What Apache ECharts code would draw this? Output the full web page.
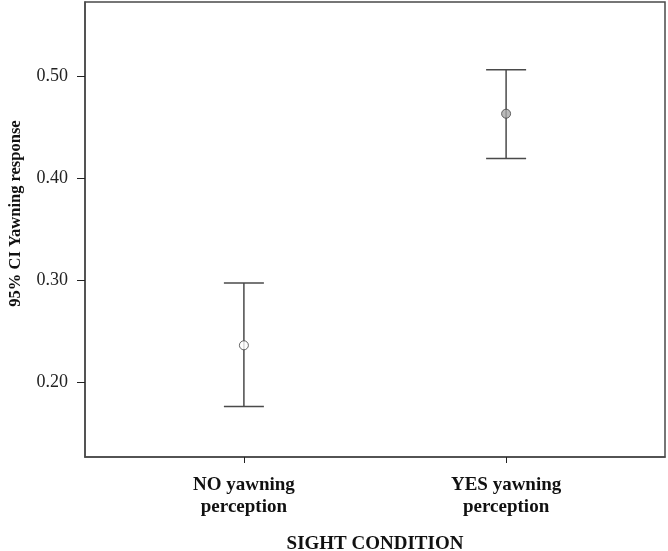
<!DOCTYPE html>
<html>
<head>
<meta charset="utf-8">
<script src="https://cdn.jsdelivr.net/npm/echarts@6/dist/echarts.min.js"></script>
<style>
  html, body { margin: 0; padding: 0; background: #fff; }
  #main { width: 668px; height: 551px; }
</style>
</head>
<body>
<div id="main"></div>
<script>
const categories = ["NO yawning\nperception", "YES yawning\nperception"]
const xPos = [1, 2]
const means = [0.236, 0.463]
const lower = [0.176, 0.419]
const upper = [0.297, 0.506]
const markerFill = ["#ffffff", "#a8a8a8"]
const yTicks = [0.2, 0.3, 0.4, 0.5]

const font = "Liberation Serif"
const ink = "#4a4a4a"

const chart = echarts.init(document.getElementById("main"))

// one bar per group: [x, lower, upper]
const barData = xPos.map((x, i) => [x, lower[i], upper[i]])
const pointData = xPos.map((x, i) => ({
  value: [x, means[i]],
  itemStyle: { color: markerFill[i] }
}))

chart.setOption({
  animation: false,
  grid: {
    left: 85, right: 3, top: 2, bottom: 94,
    outerBoundsMode: "none",
    containLabel: false,
    show: true, borderColor: ink, borderWidth: 1.5
  },
  xAxis: {
    type: "value",
    min: 0.394, max: 2.606,
    name: "SIGHT CONDITION",
    nameLocation: "middle",
    nameGap: 78,
    nameTextStyle: { fontFamily: font, fontWeight: "bold", fontSize: 19, color: "#111" },
    splitLine: { show: false },
    axisLine: { show: true, lineStyle: { color: ink, width: 1.5 } },
    axisTick: { show: true, customValues: xPos, length: 6, lineStyle: { color: "#222" } },
    axisLabel: {
      customValues: xPos,
      margin: 17,
      fontFamily: font, fontWeight: "bold", fontSize: 19, color: "#111", lineHeight: 22,
      formatter: v => categories[xPos.indexOf(v)] || ""
    }
  },
  yAxis: {
    type: "value",
    min: 0.1265, max: 0.5725,
    name: "95% CI Yawning response",
    nameLocation: "middle",
    nameGap: 61,
    nameTextStyle: {
      fontFamily: font, fontWeight: "bold", fontSize: 16.5, color: "#111",
      padding: [0, 0, 0, 32]
    },
    splitLine: { show: false },
    axisLine: { show: true, lineStyle: { color: ink, width: 1.5 } },
    axisTick: { show: true, customValues: yTicks, length: 8, lineStyle: { color: "#222" } },
    axisLabel: {
      customValues: yTicks,
      margin: 17,
      fontFamily: font, fontSize: 18, color: "#222",
      formatter: v => v.toFixed(2)
    }
  },
  series: [
    {
      type: "custom",
      data: barData,
      renderItem: (params, api) => {
        const x = api.value(0)
        const lo = api.coord([x, api.value(1)])
        const hi = api.coord([x, api.value(2)])
        const half = 20
        const style = { stroke: ink, lineWidth: 1.5 }
        return {
          type: "group",
          children: [
            { type: "line", shape: { x1: lo[0], y1: lo[1], x2: hi[0], y2: hi[1] }, style },
            { type: "line", shape: { x1: hi[0] - half, y1: hi[1], x2: hi[0] + half, y2: hi[1] }, style },
            { type: "line", shape: { x1: lo[0] - half, y1: lo[1], x2: lo[0] + half, y2: lo[1] }, style }
          ]
        }
      },
      z: 2
    },
    {
      type: "scatter",
      data: pointData,
      symbol: "circle",
      symbolSize: 9,
      itemStyle: { borderColor: "#444", borderWidth: 1 },
      z: 3
    }
  ]
})
</script>
</body>
</html>
